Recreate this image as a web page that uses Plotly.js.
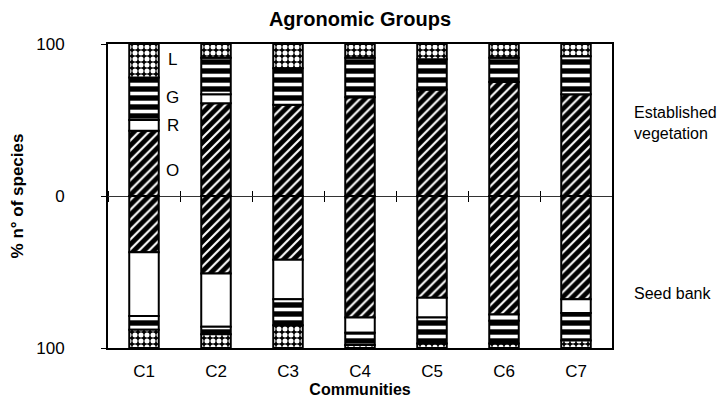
<!DOCTYPE html>
<html>
<head>
<meta charset="utf-8">
<script src="https://cdn.plot.ly/plotly-3.0.1.min.js"></script>
<style>html,body{margin:0;padding:0;background:#fff;}#chart{width:724px;height:398px;}</style>
</head>
<body>
<div id="chart"></div>
<script>
const communities = ['C1','C2','C3','C4','C5','C6','C7'];
// Established vegetation (% of species)
const estO = [43, 61, 60, 65, 70, 75, 67];
const estR = [7, 6, 0, 0, 0, 0, 0];
const estG = [28, 24, 24, 26, 20, 16, 25];
const estL = [22, 9, 16, 9, 10, 9, 8];
// Seed bank (% of species)
const seedO = [37, 51, 42, 80, 67, 78, 68];
const seedR = [42, 35, 26, 10, 13, 4, 9];
const seedG = [9, 5, 17, 8, 17, 15, 18];
const seedL = [12, 9, 15, 2, 3, 3, 5];
const yTickVals = [100, 0, -100];
const yTickText = ['100', '0', '100'];

const FONT = 'Liberation Sans, Arial, sans-serif';
const line = {color: 'black', width: 2};
const pats = {
  O: {shape: '/', bgcolor: 'black', fgcolor: 'white', size: 7, solidity: 0.3},
  G: {shape: '-', bgcolor: 'black', fgcolor: 'white', size: 9, solidity: 0.4},
  L: {shape: '.', bgcolor: 'black', fgcolor: 'white', size: 6, solidity: 0.55}
};
function bar(name, vals, key, sign) {
  const m = {color: key === 'R' ? 'white' : 'black', line: line};
  if (key !== 'R') m.pattern = pats[key];
  return {type: 'bar', x: communities, y: vals.map(v => sign * v), name: name,
          marker: m, showlegend: false, hoverinfo: 'skip'};
}
const traces = [
  bar('O', estO, 'O', 1), bar('R', estR, 'R', 1), bar('G', estG, 'G', 1), bar('L', estL, 'L', 1),
  bar('O', seedO, 'O', -1), bar('R', seedR, 'R', -1), bar('G', seedG, 'G', -1), bar('L', seedL, 'L', -1),
  {type: 'scatter', mode: 'markers', x: communities, y: communities.map(() => 0), xaxis: 'x2',
   marker: {opacity: 0}, showlegend: false, hoverinfo: 'skip'},
  {type: 'scatter', mode: 'markers', x: communities, y: communities.map(() => 0), xaxis: 'x3',
   marker: {opacity: 0}, showlegend: false, hoverinfo: 'skip'}
];
const zeroAxis = (side) => ({
  type: 'category', overlaying: 'x', matches: 'x', anchor: 'free', position: 0.5, side: side,
  showline: false, showgrid: false, zeroline: false, showticklabels: false,
  ticks: 'outside', tickson: 'boundaries', ticklen: 5, tickwidth: 1, tickcolor: 'black'
});
const layout = {
  width: 724, height: 398,
  margin: {l: 108, r: 112, t: 44, b: 50},
  paper_bgcolor: 'white', plot_bgcolor: 'white',
  font: {family: FONT, color: 'black', size: 16},
  barmode: 'relative', bargap: 0.59,
  title: {text: '<b>Agronomic Groups</b>', x: 0.5, xref: 'paper', y: 0.97, yref: 'container',
          yanchor: 'top', font: {size: 20, family: FONT}},
  xaxis: {type: 'category', showline: true, linecolor: 'black', linewidth: 2, mirror: true,
          ticks: '', showgrid: false, zeroline: false, tickfont: {size: 17},
          ticklabelstandoff: 7,
          title: {text: '<b>Communities</b>', font: {size: 16}, standoff: 2}},
  xaxis2: zeroAxis('bottom'),
  xaxis3: zeroAxis('top'),
  yaxis: {range: [-100, 100], tickvals: yTickVals, ticktext: yTickText, showline: true,
          linecolor: 'black', linewidth: 2, mirror: true, ticks: 'outside', ticklen: 5,
          tickcolor: 'black', showgrid: false, zeroline: true, zerolinecolor: '#333',
          zerolinewidth: 1, ticklabelstandoff: 33, tickfont: {size: 17},
          title: {text: '<b>% n° of species</b>', font: {size: 17}, standoff: 8}},
  annotations: [
    {text: 'L', x: 0.4, y: 89.5, xref: 'x', yref: 'y', showarrow: false, font: {size: 17}},
    {text: 'G', x: 0.4, y: 64.5, xref: 'x', yref: 'y', showarrow: false, font: {size: 17}},
    {text: 'R', x: 0.4, y: 46.5, xref: 'x', yref: 'y', showarrow: false, font: {size: 17}},
    {text: 'O', x: 0.4, y: 17, xref: 'x', yref: 'y', showarrow: false, font: {size: 17}},
    {text: 'Established<br>vegetation', x: 1.04, y: 48, xref: 'paper', yref: 'y', xanchor: 'left',
     align: 'left', showarrow: false, font: {size: 16}},
    {text: 'Seed bank', x: 1.04, y: -64, xref: 'paper', yref: 'y', xanchor: 'left',
     align: 'left', showarrow: false, font: {size: 16}}
  ]
};
Plotly.newPlot('chart', traces, layout, {displayModeBar: false, staticPlot: true});
</script>
</body>
</html>
